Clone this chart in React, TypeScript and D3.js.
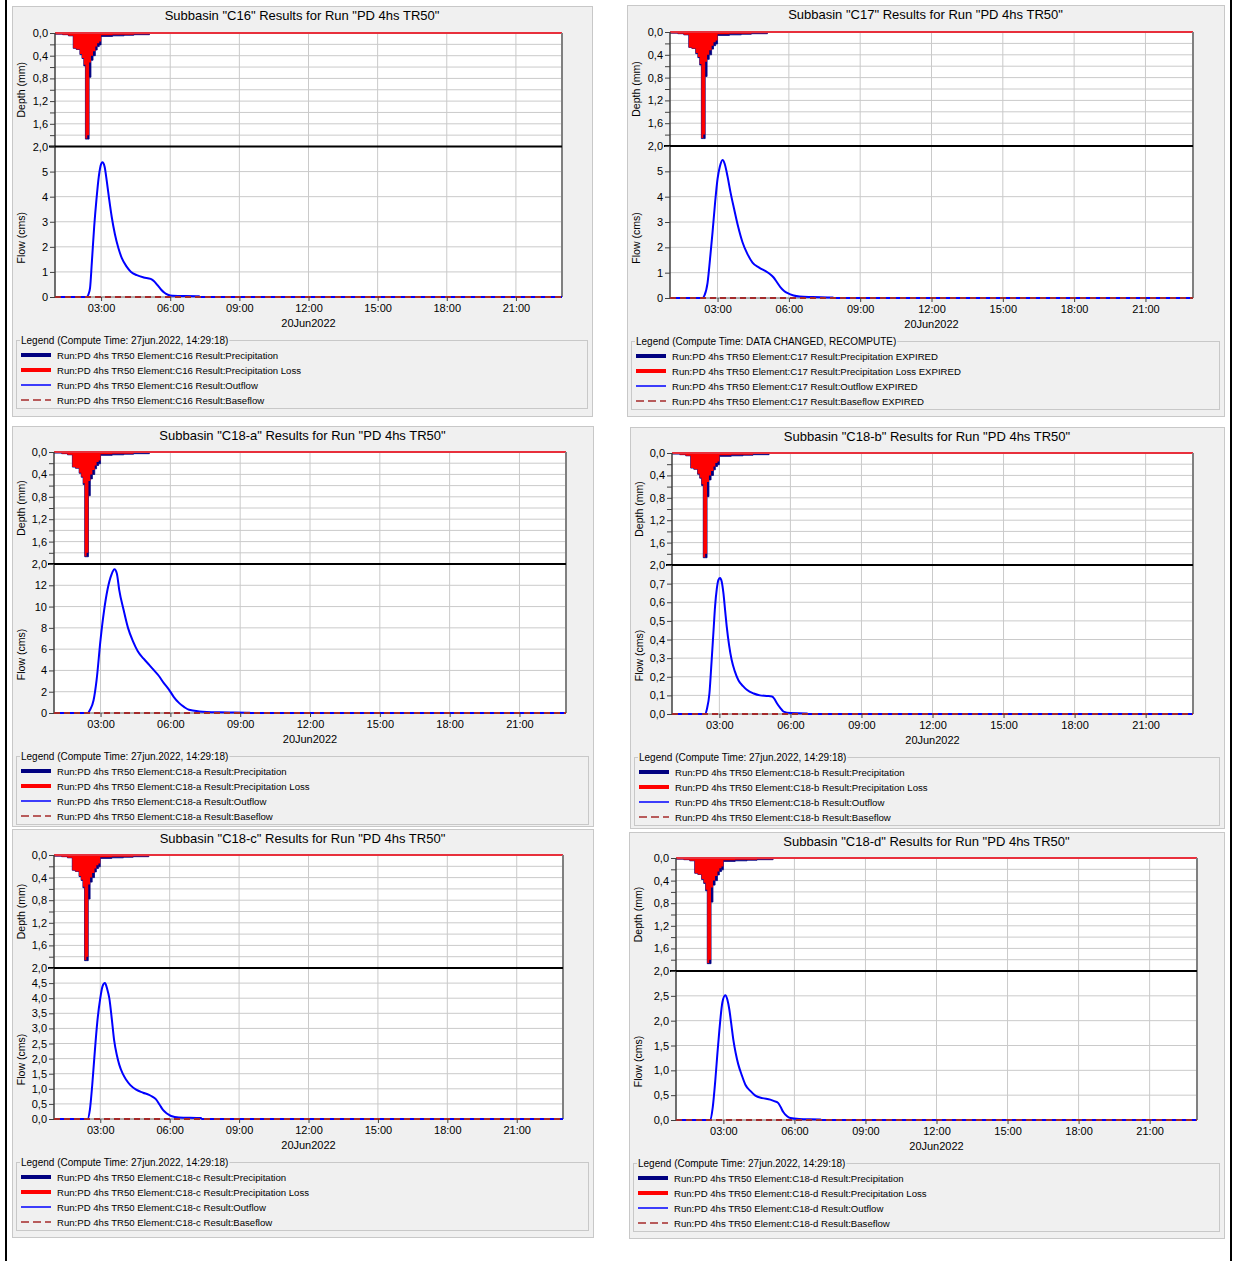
import React, { useEffect, useRef } from 'react';
import * as d3 from 'd3';

// same storm on every subbasin, hours after midnight of 20Jun2022 (step starts)
const hyetoHours = [1.0, 1.33, 1.58, 1.79, 1.92, 2.08, 2.17, 2.25, 2.32, 2.4, 2.48, 2.56, 2.65, 2.75, 2.83, 2.92, 3.0, 3.5, 4.0, 4.42, 5.1];
const precipMm = [0.02, 0.03, 0.05, 0.27, 0.29, 0.38, 0.45, 0.58, 1.87, 1.87, 0.78, 0.48, 0.40, 0.30, 0.24, 0.21, 0.06, 0.05, 0.04, 0.03, 0];
const lossMm = [0.02, 0.03, 0.05, 0.27, 0.29, 0.37, 0.44, 0.56, 1.86, 1.80, 0.52, 0.40, 0.32, 0.24, 0.18, 0.15, 0.04, 0.03, 0.03, 0.02, 0];

// outflow hydrographs [hour, cms]
const outflowC16 = [[1, 0], [2.38, 0], [2.45, 0.1], [2.52, 0.35], [2.6, 1.4], [2.7, 2.8], [2.8, 3.9], [2.9, 4.8], [3.0, 5.3], [3.06, 5.37], [3.15, 5.2], [3.25, 4.6], [3.35, 3.9], [3.46, 3.2], [3.6, 2.5], [3.75, 1.95], [3.9, 1.55], [4.1, 1.22], [4.3, 1.0], [4.55, 0.87], [4.85, 0.78], [5.15, 0.72], [5.3, 0.63], [5.45, 0.47], [5.6, 0.3], [5.75, 0.17], [5.9, 0.09], [6.1, 0.05], [7.25, 0.03], [7.3, 0], [23, 0]];
const outflowC17 = [[1, 0], [2.37, 0], [2.45, 0.1], [2.58, 0.6], [2.7, 1.7], [2.79, 2.6], [2.9, 3.8], [3.0, 4.7], [3.1, 5.2], [3.21, 5.45], [3.3, 5.3], [3.42, 4.8], [3.55, 4.15], [3.7, 3.5], [3.87, 2.8], [4.05, 2.2], [4.25, 1.75], [4.47, 1.4], [4.75, 1.2], [5.04, 1.05], [5.2, 0.95], [5.35, 0.82], [5.5, 0.62], [5.65, 0.42], [5.8, 0.28], [5.95, 0.19], [6.2, 0.1], [6.45, 0.06], [7.0, 0.04], [7.85, 0.02], [7.9, 0], [23, 0]];
const outflowC18a = [[1, 0], [2.45, 0], [2.55, 0.3], [2.7, 1.2], [2.83, 3.1], [3.0, 6.9], [3.15, 9.6], [3.3, 11.6], [3.47, 13.0], [3.6, 13.5], [3.7, 13.1], [3.8, 11.6], [4.0, 9.6], [4.18, 8.0], [4.4, 6.7], [4.6, 5.8], [4.85, 5.1], [5.1, 4.5], [5.3, 4.0], [5.5, 3.5], [5.72, 2.8], [5.94, 2.2], [6.15, 1.5], [6.37, 0.95], [6.6, 0.55], [6.8, 0.3], [7.24, 0.15], [8.1, 0.06], [9.4, 0.02], [9.5, 0], [23, 0]];
const outflowC18b = [[1, 0], [2.39, 0], [2.48, 0.03], [2.58, 0.11], [2.67, 0.28], [2.75, 0.44], [2.82, 0.58], [2.89, 0.67], [2.96, 0.72], [3.03, 0.73], [3.1, 0.71], [3.17, 0.65], [3.24, 0.56], [3.31, 0.47], [3.41, 0.37], [3.52, 0.29], [3.65, 0.23], [3.81, 0.18], [4.0, 0.15], [4.16, 0.13], [4.45, 0.11], [4.72, 0.1], [5.0, 0.097], [5.22, 0.094], [5.33, 0.08], [5.43, 0.058], [5.57, 0.033], [5.71, 0.013], [6.0, 0.005], [6.7, 0.003], [6.75, 0], [23, 0]];
const outflowC18c = [[1, 0], [2.45, 0], [2.55, 0.3], [2.65, 1.1], [2.74, 2.0], [2.87, 3.2], [3.0, 4.0], [3.1, 4.4], [3.2, 4.5], [3.3, 4.3], [3.39, 4.0], [3.5, 3.3], [3.6, 2.6], [3.72, 2.1], [3.82, 1.8], [3.97, 1.5], [4.12, 1.3], [4.3, 1.12], [4.55, 0.97], [4.85, 0.87], [5.11, 0.8], [5.25, 0.74], [5.41, 0.65], [5.56, 0.48], [5.71, 0.3], [5.88, 0.18], [6.06, 0.1], [6.4, 0.05], [7.35, 0.03], [7.4, 0], [23, 0]];
const outflowC18d = [[1, 0], [2.45, 0], [2.55, 0.25], [2.66, 0.8], [2.75, 1.35], [2.83, 1.8], [2.96, 2.37], [3.08, 2.51], [3.17, 2.42], [3.25, 2.23], [3.33, 1.95], [3.42, 1.62], [3.52, 1.35], [3.63, 1.12], [3.78, 0.9], [3.93, 0.71], [4.15, 0.58], [4.35, 0.49], [4.65, 0.44], [4.98, 0.41], [5.15, 0.38], [5.32, 0.34], [5.43, 0.25], [5.53, 0.16], [5.68, 0.08], [5.83, 0.04], [6.2, 0.02], [7.1, 0.01], [7.15, 0], [23, 0]];
const baseflowHours = [1, 23];
const baseflowCms = [0, 0];

const flowTicksC16 = [0, 1, 2, 3, 4, 5];
const flowTicksC17 = [0, 1, 2, 3, 4, 5];
const flowTicksC18a = [0, 2, 4, 6, 8, 10, 12];
const flowTicksC18b = [0, 0.1, 0.2, 0.3, 0.4, 0.5, 0.6, 0.7];
const flowTicksC18c = [0, 0.5, 1, 1.5, 2, 2.5, 3, 3.5, 4, 4.5];
const flowTicksC18d = [0, 0.5, 1, 1.5, 2, 2.5];

const depthTicks = [0, 0.2, 0.4, 0.6, 0.8, 1.0, 1.2, 1.4, 1.6, 1.8, 2.0];
const timeTickHours = [3, 6, 9, 12, 15, 18, 21];
const timeTickLabels = ['03:00', '06:00', '09:00', '12:00', '15:00', '18:00', '21:00'];
const dateLabel = '20Jun2022';
const runName = 'PD 4hs TR50';
const legendResults = ['Precipitation', 'Precipitation Loss', 'Outflow', 'Baseflow'];

const FONT = '"Liberation Sans", Arial, sans-serif';

// box: x, y, w, h   plot: left, right, top, separator, bottom
const charts = [
    { name: 'C16', flow: outflowC16, flowMax: 6, ticks: flowTicksC16, dec: 0, compute: '27jun.2022, 14:29:18', status: '', box: [12, 6, 580, 410], plot: [55, 562, 33, 146.5, 297] },
    { name: 'C17', flow: outflowC17, flowMax: 6, ticks: flowTicksC17, dec: 0, compute: 'DATA CHANGED, RECOMPUTE', status: ' EXPIRED', box: [627, 5, 597, 411], plot: [670, 1193, 32, 146, 298] },
    { name: 'C18-a', flow: outflowC18a, flowMax: 14, ticks: flowTicksC18a, dec: 0, compute: '27jun.2022, 14:29:18', status: '', box: [12, 426, 581, 400], plot: [54, 566, 452, 564, 713] },
    { name: 'C18-b', flow: outflowC18b, flowMax: 0.8, ticks: flowTicksC18b, dec: 1, compute: '27jun.2022, 14:29:18', status: '', box: [630, 427, 594, 401], plot: [672, 1193, 453, 565, 714] },
    { name: 'C18-c', flow: outflowC18c, flowMax: 5, ticks: flowTicksC18c, dec: 1, compute: '27jun.2022, 14:29:18', status: '', box: [12, 829, 581, 408], plot: [54, 563, 855, 968, 1119] },
    { name: 'C18-d', flow: outflowC18d, flowMax: 3, ticks: flowTicksC18d, dec: 1, compute: '27jun.2022, 14:29:18', status: '', box: [629, 832, 595, 406], plot: [676, 1197, 858, 971, 1120] },
];

const comma = (v: number, dec: number) => d3.format('.' + dec + 'f')(v).replace('.', ',');

function styleAxis(ax: any) {
    ax.select('.domain').remove();
    ax.selectAll('line').attr('stroke', '#404040');
    ax.selectAll('text').attr('fill', '#000');
    ax.attr('font-size', 11).attr('font-family', FONT);
}

function drawPanel(svg: any, c: any) {
    const [bx, by, bw, bh] = c.box;
    const [x0, x1, top, sep, bottom] = c.plot;
    const g = svg.append('g');

    g.append('rect')
        .attr('x', bx + 0.5).attr('y', by + 0.5)
        .attr('width', bw).attr('height', bh)
        .attr('fill', '#f0f0f0').attr('stroke', '#c8c8c8');

    g.append('text')
        .attr('x', bx + bw / 2).attr('y', by + 13.5)
        .attr('text-anchor', 'middle')
        .style('font-size', '13px')
        .text(`Subbasin "${c.name}" Results for Run "${runName}"`);

    const x = d3.scaleLinear().domain([1, 23]).range([x0, x1]);
    const yD = d3.scaleLinear().domain([0, 2]).range([top, sep]);
    const yF = d3.scaleLinear().domain([0, c.flowMax]).range([bottom, sep]);

    g.append('rect')
        .attr('x', x0).attr('y', top)
        .attr('width', x1 - x0).attr('height', bottom - top)
        .attr('fill', '#fff');

    // grid
    const grid = g.append('g').attr('stroke', '#cacaca').attr('stroke-width', 1);
    grid.selectAll('.vx').data(timeTickHours).enter().append('line')
        .attr('x1', (d: number) => x(d)).attr('x2', (d: number) => x(d))
        .attr('y1', top).attr('y2', bottom);
    grid.selectAll('.hd').data(depthTicks).enter().append('line')
        .attr('x1', x0).attr('x2', x1)
        .attr('y1', (d: number) => yD(d)).attr('y2', (d: number) => yD(d));
    grid.selectAll('.hf').data(c.ticks).enter().append('line')
        .attr('x1', x0).attr('x2', x1)
        .attr('y1', (d: number) => yF(d)).attr('y2', (d: number) => yF(d));

    // hyetograph, precipitation under loss
    const hyeto = hyetoHours.map((t, i) => ({ t, p: precipMm[i], l: lossMm[i] }));
    const precipArea = d3.area<any>()
        .x(d => x(d.t)).y0(yD(0)).y1(d => yD(d.p))
        .curve(d3.curveStepAfter);
    const lossArea = d3.area<any>()
        .x(d => x(d.t)).y0(yD(0)).y1(d => yD(d.l))
        .curve(d3.curveStepAfter);
    g.append('path').datum(hyeto).attr('d', precipArea).attr('fill', '#000080').attr('stroke', '#000080').attr('stroke-width', 0.8);
    g.append('path').datum(hyeto).attr('d', lossArea).attr('fill', '#ff0000');

    // zero loss along the top
    g.append('line')
        .attr('x1', x(1)).attr('x2', x(23))
        .attr('y1', yD(0)).attr('y2', yD(0))
        .attr('stroke', '#e8303c').attr('stroke-width', 2);

    // frame
    g.append('line').attr('x1', x1).attr('x2', x1).attr('y1', top).attr('y2', bottom)
        .attr('stroke', '#808080').attr('stroke-width', 2);
    g.append('line').attr('x1', x0).attr('x2', x1).attr('y1', bottom).attr('y2', bottom)
        .attr('stroke', '#808080').attr('stroke-width', 1);
    g.append('line').attr('x1', x0).attr('x2', x0).attr('y1', top).attr('y2', bottom)
        .attr('stroke', '#404040').attr('stroke-width', 1.5);

    // outflow + baseflow
    const flowLine = d3.line<any>().x(d => x(d[0])).y(d => yF(d[1])).curve(d3.curveMonotoneX);
    g.append('path').datum(c.flow).attr('d', flowLine)
        .attr('fill', 'none').attr('stroke', '#0000ff').attr('stroke-width', 2);
    const base = baseflowHours.map((h, i) => [h, baseflowCms[i]]);
    g.append('path').datum(base).attr('d', d3.line<any>().x(d => x(d[0])).y(d => yF(d[1])))
        .attr('fill', 'none').attr('stroke', '#a52a2a').attr('stroke-width', 2)
        .attr('stroke-dasharray', '6,4');

    // separator between depth and flow
    g.append('line')
        .attr('x1', x0 - 6).attr('x2', x1)
        .attr('y1', sep).attr('y2', sep)
        .attr('stroke', '#000').attr('stroke-width', 2);

    // axes
    const dAxis = g.append('g').attr('transform', `translate(${x0},0)`)
        .call(d3.axisLeft(yD).tickValues(depthTicks).tickSize(5).tickPadding(2)
            .tickFormat((d: any, i: number) => (i % 2 === 0 ? comma(d, 1) : '')));
    styleAxis(dAxis);

    const fAxis = g.append('g').attr('transform', `translate(${x0},0)`)
        .call(d3.axisLeft(yF).tickValues(c.ticks).tickSize(5).tickPadding(2)
            .tickFormat((d: any) => comma(d, c.dec)));
    styleAxis(fAxis);

    const tAxis = g.append('g').attr('transform', `translate(0,${bottom})`)
        .call(d3.axisBottom(x).tickValues(timeTickHours).tickSize(4).tickPadding(3)
            .tickFormat((d: any, i: number) => timeTickLabels[i]));
    styleAxis(tAxis);

    g.append('text')
        .attr('x', (x0 + x1) / 2).attr('y', bottom + 30)
        .attr('text-anchor', 'middle')
        .style('font-size', '11px')
        .text(dateLabel);

    g.append('text')
        .attr('transform', `translate(${bx + 10},${(top + sep) / 2}) rotate(-90)`)
        .attr('text-anchor', 'middle').attr('dominant-baseline', 'middle')
        .style('font-size', '10.5px')
        .text('Depth (mm)');
    g.append('text')
        .attr('transform', `translate(${bx + 10},${(sep + bottom) / 2 + 16}) rotate(-90)`)
        .attr('text-anchor', 'middle').attr('dominant-baseline', 'middle')
        .style('font-size', '10.5px')
        .text('Flow (cms)');

    // legend group box
    const ly = bottom + 43;
    g.append('rect')
        .attr('x', bx + 4.5).attr('y', ly + 0.5)
        .attr('width', bw - 9).attr('height', 68)
        .attr('fill', 'none').attr('stroke', '#c8c8c8');
    const title = `Legend (Compute Time: ${c.compute})`;
    const lt = g.append('text')
        .attr('x', bx + 9).attr('y', ly + 3.5)
        .style('font-size', '10px')
        .text(title);
    const tw = (lt.node() as SVGTextElement).getComputedTextLength();
    g.insert('rect', () => lt.node())
        .attr('x', bx + 8).attr('y', ly - 4)
        .attr('width', tw + 2).attr('height', 9)
        .attr('fill', '#f0f0f0');

    const swatches = [
        { color: '#000080', w: 4, dash: null },
        { color: '#ff0000', w: 4, dash: null },
        { color: '#0000ff', w: 1.5, dash: null },
        { color: '#a52a2a', w: 1.5, dash: '8,4' },
    ];
    legendResults.forEach((r, i) => {
        const ey = ly + 15 + i * 15;
        g.append('line')
            .attr('x1', bx + 9).attr('x2', bx + 39)
            .attr('y1', ey).attr('y2', ey)
            .attr('stroke', swatches[i].color).attr('stroke-width', swatches[i].w)
            .attr('stroke-dasharray', swatches[i].dash);
        g.append('text')
            .attr('x', bx + 45).attr('y', ey + 3.5)
            .style('font-size', '9.6px')
            .text(`Run:${runName} Element:${c.name} Result:${r}${c.status}`);
    });
}

export default function App() {
    const ref = useRef<SVGSVGElement>(null);

    useEffect(() => {
        const svg = d3.select(ref.current);
        svg.selectAll('*').remove();

        svg.append('rect').attr('width', 1235).attr('height', 1261).attr('fill', '#fff');
        charts.forEach(c => drawPanel(svg, c));

        // page border lines left and right
        svg.append('line').attr('x1', 6).attr('x2', 6).attr('y1', 0).attr('y2', 1261)
            .attr('stroke', '#000').attr('stroke-width', 2);
        svg.append('line').attr('x1', 1231).attr('x2', 1231).attr('y1', 0).attr('y2', 1261)
            .attr('stroke', '#000').attr('stroke-width', 2);
    }, []);

    return (
        <svg
            ref={ref}
            width={1235}
            height={1261}
            style={{ position: 'absolute', left: 0, top: 0, fontFamily: FONT }}
        />
    );
}
